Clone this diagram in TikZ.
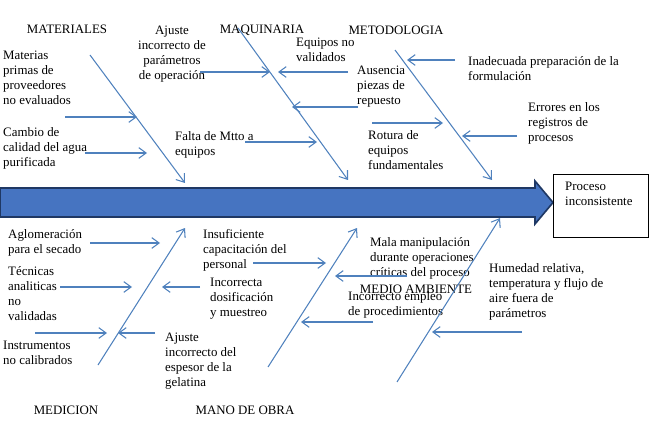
\documentclass[tikz,border=0pt]{standalone}
\usepackage{fontspec}
\setmainfont{Liberation Serif}
\usepackage{xcolor}
\usetikzlibrary{arrows.meta, positioning}

\definecolor{bonecol}{RGB}{79,129,189}
\definecolor{spinefill}{RGB}{70,116,193}
\definecolor{spinedraw}{RGB}{31,56,100}

\begin{document}
\begin{tikzpicture}[
    x=0.03cm, y=-0.03cm,
    lbl/.style={anchor=north west, inner sep=0pt, align=left, font=\fontsize{11}{12.8}\selectfont},
    cat/.style={anchor=center, inner sep=0pt, font=\fontsize{11}{12.8}\selectfont},
    bone/.style={draw=bonecol, line width=0.9pt, -{Straight Barb[length=2.2mm, width=3.2mm]}},
    cause/.style={bone}
]
\useasboundingbox (0,0) rectangle (650,427);

% Spine and effect
\fill[spinefill, draw=spinedraw, line width=1.4pt] (0,188) -- (535,188) -- (535,181) -- (553,202.5) -- (535,224) -- (535,217) -- (0,217) -- cycle;
\node[draw, line width=0.6pt, anchor=north west, minimum width=2.85cm, minimum height=1.89cm] (efecto) at (553,174) {};
\node[lbl] (efectotxt) at (565,182) {Proceso\\inconsistente};

% Categories
\node[cat] (materiales) at (67,29) {MATERIALES};
\node[cat] (maquinaria) at (262,30) {MAQUINARIA};
\node[cat] (metodologia) at (396,30) {METODOLOGIA};
\node[cat] (medicion) at (66,410) {MEDICION};
\node[cat] (manoobra) at (245,410) {MANO DE OBRA};
\node[cat] (medioamb) at (416,289) {MEDIO AMBIENTE};

% Top causes
\node[lbl] (mat1) at (3,51) {Materias\\primas de\\proveedores\\no evaluados};
\node[lbl] (mat2) at (3,127) {Cambio de\\calidad del agua\\purificada};
\node[lbl, anchor=north, align=center] (maq1) at (172,26) {Ajuste\\incorrecto de\\parámetros\\de operación};
\node[lbl] (maq2) at (296,38) {Equipos no\\validados};
\node[lbl] (maq3) at (357,66) {Ausencia\\piezas de\\repuesto};
\node[lbl] (maq4) at (175,131) {Falta de Mtto a\\equipos};
\node[lbl] (maq5) at (368,130) {Rotura de\\equipos\\fundamentales};
\node[lbl] (met1) at (468,56) {Inadecuada preparación de la\\formulación};
\node[lbl] (met2) at (528,102) {Errores en los\\registros de\\procesos};

% Bottom causes
\node[lbl] (med1) at (8,229) {Aglomeración\\para el secado};
\node[lbl] (med2) at (8,266) {Técnicas\\analiticas\\no\\validadas};
\node[lbl] (med3) at (3,341) {Instrumentos\\no calibrados};
\node[lbl] (mo1) at (203,229) {Insuficiente\\capacitación del\\personal};
\node[lbl] (mo2) at (210,278) {Incorrecta\\dosificación\\y muestreo};
\node[lbl] (mo3) at (165,333) {Ajuste\\incorrecto del\\espesor de la\\gelatina};
\node[lbl] (ma1) at (370,237) {Mala manipulación\\durante operaciones\\críticas del proceso};
\node[lbl] (ma2) at (348,291) {Incorrecto empleo\\de procedimientos};
\node[lbl] (ma3) at (489,263) {Humedad relativa,\\temperatura y flujo de\\aire fuera de\\parámetros};

% Bone end points
\coordinate (b1s) at (90,55);   \coordinate (b1e) at (185,183);
\coordinate (b2s) at (238,28);  \coordinate (b2e) at (348,180);
\coordinate (b3s) at (395,50);  \coordinate (b3e) at (492,180);
\coordinate (b4s) at (98,365);  \coordinate (b4e) at (185,228);
\coordinate (b5s) at (268,367); \coordinate (b5e) at (357,228);
\coordinate (b6s) at (397,382); \coordinate (b6e) at (500,218);

% Cause arrow end points
\coordinate (a1s) at (65,117);   \coordinate (a1e) at (137,117);
\coordinate (a2s) at (85,153);   \coordinate (a2e) at (147,153);
\coordinate (a3s) at (200,72);   \coordinate (a3e) at (270,72);
\coordinate (a4s) at (348,72);   \coordinate (a4e) at (278,72);
\coordinate (a5s) at (358,107);  \coordinate (a5e) at (292,107);
\coordinate (a6s) at (245,142);  \coordinate (a6e) at (317,142);
\coordinate (a7s) at (372,123);  \coordinate (a7e) at (443,123);
\coordinate (a8s) at (455,60);   \coordinate (a8e) at (407,60);
\coordinate (a9s) at (517,136);  \coordinate (a9e) at (462,136);
\coordinate (a10s) at (90,243);  \coordinate (a10e) at (160,243);
\coordinate (a11s) at (60,287);  \coordinate (a11e) at (132,287);
\coordinate (a12s) at (200,287); \coordinate (a12e) at (162,287);
\coordinate (a13s) at (35,333);  \coordinate (a13e) at (107,333);
\coordinate (a14s) at (155,333); \coordinate (a14e) at (118,333);
\coordinate (a15s) at (253,263); \coordinate (a15e) at (326,263);
\coordinate (a16s) at (373,322); \coordinate (a16e) at (301,322);
\coordinate (a17s) at (407,276); \coordinate (a17e) at (335,276);
\coordinate (a18s) at (522,332); \coordinate (a18e) at (432,332);

% Bones
\foreach \i in {1,...,6}
    \draw[bone] (b\i s) -- (b\i e);

% Causes
\foreach \i in {1,...,18}
    \draw[cause] (a\i s) -- (a\i e);

\end{tikzpicture}
\end{document}
